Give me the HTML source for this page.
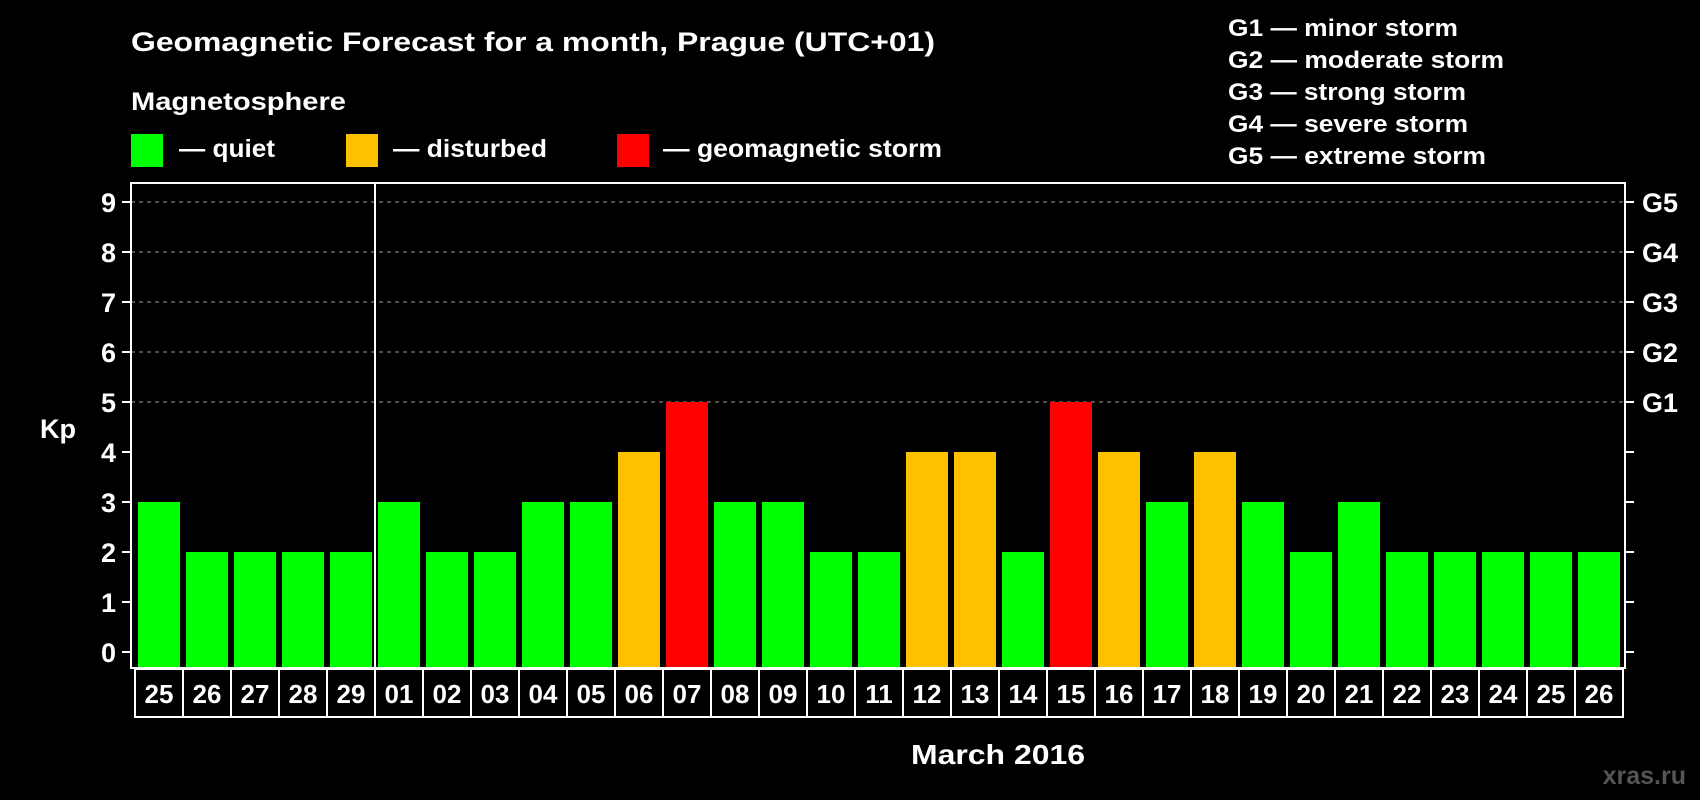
<!DOCTYPE html>
<html><head><meta charset="utf-8"><style>
html,body{margin:0;padding:0;background:#000;}
svg{display:block;font-family:"Liberation Sans",sans-serif;font-weight:bold;}
</style></head><body>
<svg id="chart" width="1700" height="800" viewBox="0 0 1700 800">
<rect width="1700" height="800" fill="#000"/>
<text x="131" y="51" fill="#fff" font-size="27" textLength="804" lengthAdjust="spacingAndGlyphs">Geomagnetic Forecast for a month, Prague (UTC+01)</text>
<text x="131" y="110" fill="#fff" font-size="25" textLength="215" lengthAdjust="spacingAndGlyphs">Magnetosphere</text>
<g>
<rect x="131" y="134" width="32" height="33" fill="#00ff00"/>
<text x="179" y="157" fill="#fff" font-size="25" textLength="96" lengthAdjust="spacingAndGlyphs">— quiet</text></g>
<g>
<rect x="346" y="134" width="32" height="33" fill="#ffc000"/>
<text x="393" y="157" fill="#fff" font-size="25" textLength="154" lengthAdjust="spacingAndGlyphs">— disturbed</text></g>
<g>
<rect x="617" y="134" width="32" height="33" fill="#ff0000"/>
<text x="663" y="157" fill="#fff" font-size="25" textLength="279" lengthAdjust="spacingAndGlyphs">— geomagnetic storm</text></g>
<g fill="#fff" font-size="24">
<text x="1228" y="36" textLength="230" lengthAdjust="spacingAndGlyphs">G1 — minor storm</text>
<text x="1228" y="68" textLength="276" lengthAdjust="spacingAndGlyphs">G2 — moderate storm</text>
<text x="1228" y="100" textLength="238" lengthAdjust="spacingAndGlyphs">G3 — strong storm</text>
<text x="1228" y="132" textLength="240" lengthAdjust="spacingAndGlyphs">G4 — severe storm</text>
<text x="1228" y="164" textLength="258" lengthAdjust="spacingAndGlyphs">G5 — extreme storm</text>
</g>
<text x="58" y="438" fill="#fff" font-size="27" text-anchor="middle">Kp</text>
<text x="998" y="764" fill="#fff" font-size="28" text-anchor="middle" textLength="174" lengthAdjust="spacingAndGlyphs">March 2016</text>
<text x="1686" y="784" fill="#555" font-size="25" text-anchor="end">xras.ru</text>
<g id="grid"></g><g id="bars"></g><g id="axes"></g><g id="labels"></g>
</svg>
<script>
const days = ["25","26","27","28","29","01","02","03","04","05","06","07","08","09","10","11","12","13","14","15","16","17","18","19","20","21","22","23","24","25","26"];
const kp = [3,2,2,2,2,3,2,2,3,3,4,5,3,3,2,2,4,4,2,5,4,3,4,3,2,3,2,2,2,2,2];
const yTicks = [0,1,2,3,4,5,6,7,8,9];
const gLabels = ["G1","G2","G3","G4","G5"];
const gLevels = [5,6,7,8,9];
const monthStartIndex = 5;

const NS = "http://www.w3.org/2000/svg";
const plotL = 131, plotR = 1625, plotT = 183, plotB = 668;
const y0 = 652, unit = 50;
const y = v => y0 - v * unit;
const step = 48, x0 = 135;
const x = i => x0 + i * step;
function mk(tag, attrs, parent) { const e = document.createElementNS(NS, tag); for (const k in attrs) e.setAttribute(k, attrs[k]); parent.appendChild(e); return e; }
const grid = document.getElementById("grid"), bars = document.getElementById("bars"), axes = document.getElementById("axes"), labels = document.getElementById("labels");
const color = v => v >= 5 ? "#ff0000" : (v >= 4 ? "#ffc000" : "#00ff00");

gLevels.forEach((g, k) => {
  const l = mk("line", {x1: plotL, x2: plotR, y1: y(g), y2: y(g), stroke: "#999", "stroke-width": 1, "stroke-dasharray": "4 4"}, grid);
  
  
  const t = mk("text", {x: 1642, y: y(g) + 10, fill: "#fff", "font-size": 27}, labels);
  t.textContent = gLabels[k];
  
  
});
kp.forEach((v, i) => {
  const r = mk("rect", {x: x(i) + 3, y: y(v), width: 42, height: plotB - y(v), fill: color(v)}, bars);
  
  
  const c = mk("rect", {x: x(i), y: plotB + 1, width: step, height: 48, fill: "none", stroke: "#fff", "stroke-width": 2}, labels);
  
  
  const t = mk("text", {x: x(i) + step / 2, y: plotB + 35, fill: "#fff", "font-size": 26, "text-anchor": "middle"}, labels);
  t.textContent = days[i];
  
  
});
const box = mk("rect", {x: plotL, y: plotT, width: plotR - plotL, height: plotB - plotT, fill: "none", stroke: "#fff", "stroke-width": 2}, axes);


const dv = mk("line", {x1: x(monthStartIndex), x2: x(monthStartIndex), y1: plotT, y2: plotB, stroke: "#fff", "stroke-width": 2}, axes);


yTicks.forEach(v => {
  mk("line", {x1: 122, x2: plotL, y1: y(v), y2: y(v), stroke: "#fff", "stroke-width": 2}, axes);
  mk("line", {x1: plotR, x2: 1634, y1: y(v), y2: y(v), stroke: "#fff", "stroke-width": 2}, axes);
  const t = mk("text", {x: 116, y: y(v) + 10, fill: "#fff", "font-size": 27, "text-anchor": "end"}, labels);
  t.textContent = v;
  
  
});
</script>
</body></html>
